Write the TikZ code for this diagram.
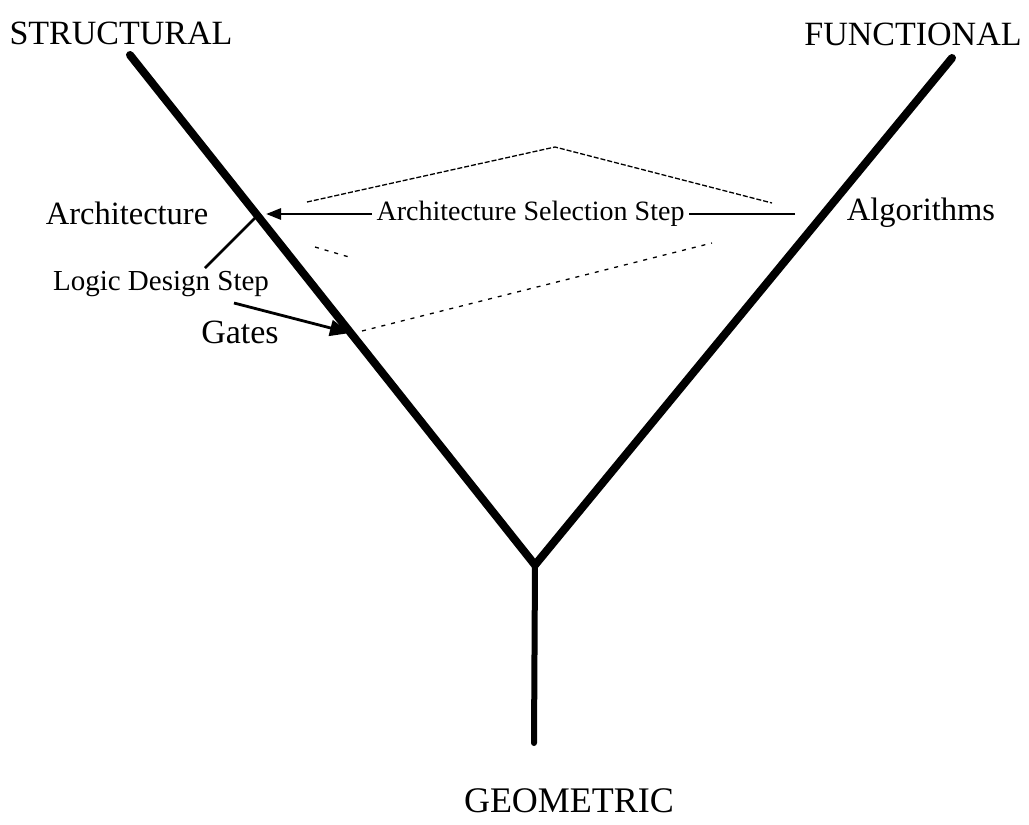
\documentclass[tikz,border=0pt]{standalone}
\usepackage{fontspec}
\setmainfont{Liberation Serif}
\usetikzlibrary{arrows.meta}
\begin{document}
\begin{tikzpicture}[x=1pt,y=-1pt,
  arm/.style={line width=8pt,line cap=round,line join=miter},
  stem/.style={line width=6pt,line cap=round},
  caps/.style={inner sep=0pt,font=\fontsize{34}{34}\selectfont},
  lbl/.style={inner sep=0pt,font=\fontsize{32.5}{32}\selectfont},
  small/.style={inner sep=0pt,font=\fontsize{29}{29}\selectfont},
  pointer/.style={line width=2.8pt},
  dashy/.style={line width=1.3pt,dash pattern=on 5pt off 2pt},
  sparse/.style={line width=1.3pt,dash pattern=on 4pt off 6pt}]
\path[use as bounding box] (0,0) rectangle (1029,825);
% main Y
\coordinate (sTop) at (130,55);
\coordinate (fTop) at (952,58);
\coordinate (J) at (535,565);
\coordinate (gBot) at (534,743);
\draw[arm] (sTop) -- (J) -- (fTop);
\draw[stem] (J) -- (gBot);
% points on arms
\coordinate (archP) at (257,216);
\coordinate (gatesP) at (350,333);
\coordinate (algEnd) at (795,214);
\coordinate (archTip) at (266,214);
% labels
\node[caps] (structural) at (121,33) {STRUCTURAL};
\node[caps] (functional) at (913,34) {FUNCTIONAL};
\node[caps,font=\fontsize{36}{36}\selectfont] (geometric) at (569,801) {GEOMETRIC};
\node[lbl] (architecture) at (127,213) {Architecture};
\node[lbl] (algorithms) at (921,213) {Algorithms};
\node[lbl,font=\fontsize{34}{34}\selectfont] (gates) at (240,332) {Gates};
\node[small] (logic) at (161,284) {Logic Design Step};
% architecture selection arrow
\draw[pointer,-{Triangle[length=15pt,width=11pt]}] (algEnd) --
  node[small,font=\fontsize{28}{28}\selectfont,fill=white,inner xsep=5pt,inner ysep=2pt] (sel) {Architecture Selection Step} (archTip);
% logic design step
\coordinate (ldTop) at (205,268);
\coordinate (ldStart) at (234,303);
\draw[pointer] (archP) -- (ldTop);
\draw[pointer,-{Triangle[length=20pt,width=16pt]}] (ldStart) -- (gatesP);
% dashed relations
\coordinate (dU1) at (307,202);
\coordinate (peak) at (555,147);
\coordinate (dU2) at (772,203);
\draw[dashy] (dU1) -- (peak) -- (dU2);
\coordinate (gD1) at (362,331);
\coordinate (gD2) at (712,243);
\draw[sparse] (gD1) -- (gD2);
\coordinate (aD1) at (315,247);
\coordinate (aD2) at (349,257);
\draw[sparse] (aD1) -- (aD2);
\end{tikzpicture}
\end{document}
